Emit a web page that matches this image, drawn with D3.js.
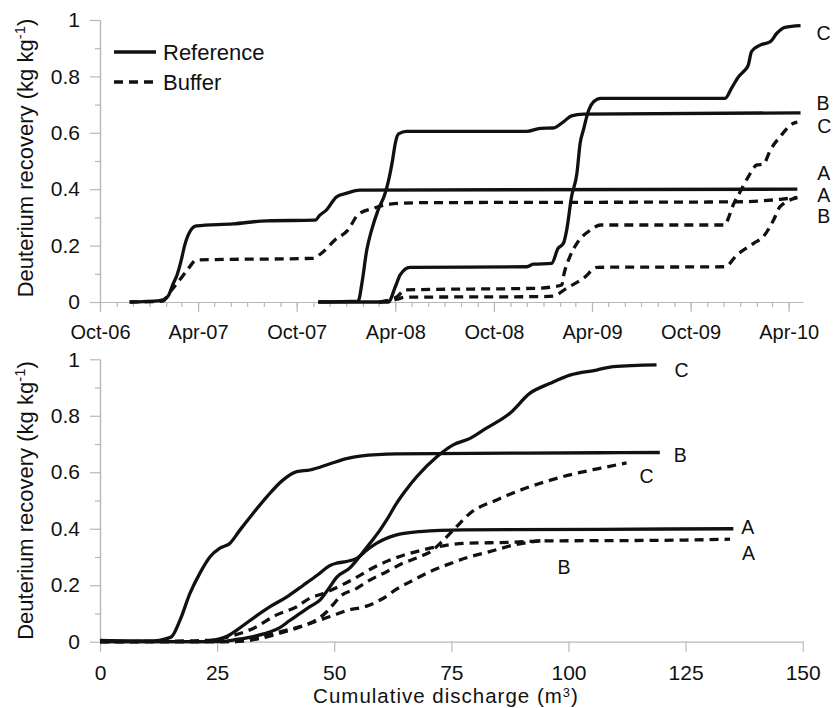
<!DOCTYPE html>
<html><head><meta charset="utf-8">
<script src="https://cdn.jsdelivr.net/npm/d3@7"></script>
<style>
html,body{margin:0;padding:0;background:#fff;}
svg{display:block;font-family:"Liberation Sans",Arial,Helvetica,sans-serif;}
</style></head>
<body><svg id="chart" width="840" height="708"></svg>
<script>
// ---------------- DATA ----------------
const seriesNames = ["A", "B", "C"];
const legendLabels = ["Reference", "Buffer"];
const topTickDates = ["2006-10-01","2007-04-01","2007-10-01","2008-04-01","2008-10-01","2009-04-01","2009-10-01","2010-04-01"];
const topTickLabels = ["Oct-06","Apr-07","Oct-07","Apr-08","Oct-08","Apr-09","Oct-09","Apr-10"];
const bottomTicks = [0, 25, 50, 75, 100, 125, 150];
const yTicks = [0, 0.2, 0.4, 0.6, 0.8, 1];
const yTickLabels = ["0", "0.2", "0.4", "0.6", "0.8", "1"];
const yMinorTicks = [0.1, 0.3, 0.5, 0.7, 0.9];

// Top panel: recovery vs date
const refA_time = [["2006-11-25",0],["2007-01-20",0.005],["2007-02-04",0.02],["2007-02-14",0.066],["2007-02-21",0.096],["2007-03-01",0.15],["2007-03-07",0.20],["2007-03-17",0.25],["2007-03-29",0.27],["2007-06-05",0.277],["2007-08-07",0.288],["2007-11-04",0.29],["2007-11-13",0.308],["2007-11-25",0.326],["2007-12-14",0.373],["2008-01-01",0.385],["2008-01-26",0.397],["2010-04-17",0.40]];
const bufA_time = [["2006-11-25",0],["2007-01-25",0.003],["2007-02-11",0.043],["2007-02-21",0.066],["2007-03-12",0.113],["2007-03-29",0.149],["2007-11-01",0.155],["2007-11-16",0.173],["2007-12-11",0.22],["2008-01-04",0.255],["2008-01-23",0.31],["2008-02-20",0.332],["2008-03-22",0.347],["2008-05-11",0.352],["2009-12-19",0.355],["2010-03-16",0.364],["2010-04-17",0.371]];
const refB_time = [["2007-11-10",0],["2008-01-23",0.003],["2008-01-30",0.066],["2008-02-08",0.184],["2008-02-17",0.255],["2008-02-29",0.326],["2008-03-13",0.385],["2008-03-21",0.444],["2008-03-27",0.504],["2008-04-01",0.563],["2008-04-07",0.596],["2008-04-22",0.605],["2008-12-01",0.605],["2008-12-26",0.616],["2009-01-19",0.617],["2009-02-07",0.639],["2009-02-22",0.66],["2009-03-16",0.666],["2010-04-23",0.671]];
const bufB_time = [["2008-03-03",0],["2008-04-05",0.01],["2008-04-19",0.017],["2008-12-26",0.019],["2009-01-19",0.021],["2009-02-13",0.049],["2009-03-16",0.084],["2009-04-11",0.123],["2009-12-04",0.125],["2009-12-26",0.167],["2010-01-26",0.208],["2010-02-13",0.232],["2010-03-04",0.291],["2010-03-16",0.338],["2010-04-17",0.37]];
const refC_time = [["2007-11-10",0],["2008-03-19",0],["2008-04-01",0.054],["2008-04-10",0.096],["2008-04-28",0.123],["2008-12-01",0.125],["2008-12-13",0.134],["2009-01-16",0.137],["2009-01-28",0.19],["2009-02-07",0.208],["2009-02-13",0.255],["2009-02-22",0.373],["2009-03-04",0.456],["2009-03-10",0.563],["2009-03-16",0.61],["2009-03-26",0.681],["2009-04-04",0.71],["2009-04-17",0.722],["2009-12-04",0.722],["2009-12-16",0.758],["2009-12-29",0.799],["2010-01-07",0.817],["2010-01-16",0.84],["2010-01-22",0.888],["2010-02-07",0.911],["2010-02-26",0.923],["2010-03-10",0.953],["2010-03-25",0.974],["2010-04-23",0.98]];
const bufC_time = [["2008-03-03",0],["2008-04-05",0.02],["2008-04-19",0.043],["2008-12-26",0.049],["2009-01-19",0.054],["2009-02-04",0.06],["2009-02-07",0.09],["2009-02-19",0.161],["2009-03-04",0.208],["2009-03-29",0.255],["2009-04-17",0.273],["2009-12-04",0.273],["2009-12-10",0.297],["2009-12-19",0.344],["2010-01-01",0.391],["2010-01-16",0.444],["2010-02-01",0.486],["2010-02-13",0.489],["2010-02-26",0.539],["2010-03-16",0.586],["2010-04-10",0.634],["2010-04-17",0.638]];

// Bottom panel: recovery vs cumulative discharge (m3)
const refA_q = [[0,0],[22,0],[25,0.008],[27,0.018],[29.2,0.041],[32,0.075],[36.3,0.124],[39.9,0.159],[43.4,0.2],[46.5,0.237],[49.1,0.27],[50.5,0.278],[52.6,0.284],[54.8,0.295],[57,0.325],[59,0.348],[63.3,0.378],[68.3,0.39],[77.5,0.396],[106.7,0.398],[135.2,0.40]];
const bufA_q = [[0,0],[20,0.003],[25,0.008],[28,0.02],[32.7,0.047],[37.7,0.095],[42,0.124],[44.8,0.154],[47.7,0.171],[51.9,0.203],[55.5,0.235],[58.3,0.262],[61.9,0.289],[65.5,0.31],[69,0.325],[72,0.336],[77.5,0.348],[88,0.352],[95,0.357],[110,0.358],[125,0.36],[134.5,0.363]];
const refB_q = [[0,0.005],[11.4,0.003],[14,0.01],[15.3,0.018],[17.1,0.077],[19.2,0.171],[21.3,0.242],[23.5,0.301],[25.6,0.331],[27.7,0.348],[29.9,0.396],[32.7,0.455],[35.6,0.513],[39.1,0.573],[42,0.602],[44.8,0.608],[49.1,0.63],[52.6,0.648],[55.5,0.657],[63.3,0.665],[106.7,0.669],[119.5,0.67]];
const bufB_q = [[0,0],[28,0],[33,0.008],[38.4,0.03],[42,0.048],[44.8,0.065],[49.1,0.089],[52.6,0.11],[56.9,0.126],[60.5,0.154],[63.3,0.186],[66.9,0.218],[70.4,0.248],[74,0.272],[79,0.301],[83.2,0.319],[88.2,0.342],[95.3,0.36]];
const refC_q = [[0,0],[26,0],[28.4,0.006],[32.7,0.018],[36,0.033],[38.4,0.05],[40.5,0.075],[42.7,0.1],[44.8,0.124],[47,0.148],[49.1,0.195],[50.5,0.228],[53.4,0.262],[54.8,0.289],[57.6,0.348],[59.8,0.396],[61.2,0.431],[63.3,0.49],[65,0.53],[67.6,0.584],[71.9,0.655],[75.4,0.697],[79,0.72],[82.5,0.756],[87.5,0.809],[91.8,0.88],[96.1,0.915],[100.3,0.944],[106,0.962],[109.6,0.974],[118.8,0.98]];
const bufC_q = [[0,0],[28,0],[33,0.01],[38.4,0.035],[42,0.05],[45.5,0.071],[48.4,0.106],[49.8,0.132],[51.2,0.159],[54.8,0.189],[57.6,0.218],[61.2,0.248],[64.7,0.278],[68.3,0.301],[71.1,0.325],[72.6,0.348],[76.1,0.407],[79,0.455],[84.7,0.502],[91.8,0.549],[98.9,0.585],[106.7,0.614],[112.4,0.633]];

// ---------------- DRAWING ----------------
const svg = d3.select("#chart");
const parse = d3.utcParse("%Y-%m-%d");
const AX = "#b8b8b8";
const INK = "#111";

const xT = d3.scaleUtc().domain([parse("2006-10-01"), parse("2010-04-27")]).range([100, 802.7]);
const yT = d3.scaleLinear().domain([0, 1]).range([302, 20]);
const xB = d3.scaleLinear().domain([0, 150]).range([100, 802.7]);
const yB = d3.scaleLinear().domain([0, 1]).range([641.7, 359.3]);

function styleAxis(g) {
  g.selectAll(".domain").attr("stroke", AX).attr("stroke-width", 1.2);
  g.selectAll(".tick line").attr("stroke", AX).attr("stroke-width", 1.2);
  g.selectAll("text").attr("fill", INK).attr("font-family", "Liberation Sans, Arial, sans-serif");
}

function yAxes(y) {
  const minor = svg.append("g").attr("transform", "translate(100,0)")
    .call(d3.axisLeft(y).tickValues(yMinorTicks).tickSize(5).tickFormat("").tickSizeOuter(0));
  styleAxis(minor);
  const major = svg.append("g").attr("transform", "translate(100,0)")
    .call(d3.axisLeft(y).tickValues(yTicks).tickSize(10).tickPadding(10).tickSizeOuter(0)
      .tickFormat((d, i) => yTickLabels[i]));
  styleAxis(major);
  major.selectAll("text").attr("font-size", 21);
}

// top x axis
const topMonths = d3.utcMonth.range(parse("2006-10-01"), parse("2010-04-28"));
const gTm = svg.append("g").attr("transform", "translate(0,302)")
  .call(d3.axisBottom(xT).tickValues(topMonths).tickSize(5).tickFormat("").tickSizeOuter(0));
styleAxis(gTm);
const gT = svg.append("g").attr("transform", "translate(0,302)")
  .call(d3.axisBottom(xT).tickValues(topTickDates.map(parse)).tickSize(10).tickPadding(13).tickSizeOuter(0)
    .tickFormat((d, i) => topTickLabels[i]));
styleAxis(gT);
gT.selectAll("text").attr("font-size", 20);
yAxes(yT);

// bottom x axis
const gB = svg.append("g").attr("transform", "translate(0,641.7)")
  .call(d3.axisBottom(xB).tickValues(bottomTicks).tickSize(10).tickPadding(13).tickSizeOuter(0)
    .tickFormat(d3.format("d")));
styleAxis(gB);
gB.selectAll("text").attr("font-size", 21);
yAxes(yB);

// lines
const lineT = d3.line().x(d => xT(parse(d[0]))).y(d => yT(d[1])).curve(d3.curveMonotoneX);
const lineB = d3.line().x(d => xB(d[0])).y(d => yB(d[1])).curve(d3.curveMonotoneX);
const DASH = "9,6";

function drawLine(data, gen, dashed) {
  svg.append("path").datum(data).attr("d", gen)
    .attr("fill", "none").attr("stroke", INK).attr("stroke-width", 3.3)
    .attr("stroke-linejoin", "round")
    .attr("stroke-dasharray", dashed ? DASH : null);
}
[[bufA_time,1],[bufB_time,1],[bufC_time,1],[refA_time,0],[refB_time,0],[refC_time,0]]
  .forEach(([d, dsh]) => drawLine(d, lineT, dsh));
[[bufA_q,1],[bufB_q,1],[bufC_q,1],[refA_q,0],[refB_q,0],[refC_q,0]]
  .forEach(([d, dsh]) => drawLine(d, lineB, dsh));

// end labels
function endLabel(data, xs, ys, name, dx, dy, isTime) {
  const last = data[data.length - 1];
  const x = isTime ? xs(parse(last[0])) : xs(last[0]);
  const y = ys(last[1]);
  svg.append("text").attr("x", x + dx).attr("y", y + dy).attr("dy", "0.36em")
    .attr("font-size", 19.5).attr("fill", INK).text(name);
}
// top panel labels (right side)
endLabel(refC_time, xT, yT, seriesNames[2], 16, 7, true);
endLabel(refB_time, xT, yT, seriesNames[1], 16, -10, true);
endLabel(bufC_time, xT, yT, seriesNames[2], 20, 4, true);
endLabel(refA_time, xT, yT, seriesNames[0], 20, -16, true);
endLabel(bufA_time, xT, yT, seriesNames[0], 20, -2.5, true);
endLabel(bufB_time, xT, yT, seriesNames[1], 20, 18.5, true);
// bottom panel labels
endLabel(refC_q, xB, yB, seriesNames[2], 18, 5, false);
endLabel(refB_q, xB, yB, seriesNames[1], 14, 2, false);
endLabel(bufC_q, xB, yB, seriesNames[2], 13, 13, false);
endLabel(refA_q, xB, yB, seriesNames[0], 8, -1.5, false);
endLabel(bufA_q, xB, yB, seriesNames[0], 12, 13.5, false);
endLabel(bufB_q, xB, yB, seriesNames[1], 11, 27, false);

// legend
const leg = svg.append("g");
legendLabels.forEach((lab, i) => {
  const y = 52 + i * 30;
  leg.append("line").attr("x1", 114).attr("x2", 156).attr("y1", y).attr("y2", y)
    .attr("stroke", INK).attr("stroke-width", 3.3)
    .attr("stroke-dasharray", i === 1 ? DASH : null);
  leg.append("text").attr("x", 163).attr("y", y).attr("dy", "0.36em")
    .attr("font-size", 22).attr("fill", INK).text(lab);
});

// y titles
function yTitle(cy) {
  const t = svg.append("text").attr("transform", `translate(33,${cy}) rotate(-90)`)
    .attr("text-anchor", "middle").attr("font-size", 22).attr("fill", INK);
  t.append("tspan").text("Deuterium recovery (kg kg");
  t.append("tspan").attr("font-size", 15).attr("dy", -8).text("-1");
  t.append("tspan").attr("dy", 8).text(")");
}
yTitle(158);
yTitle(500.5);

// x title bottom
const xt = svg.append("text").attr("x", 446).attr("y", 703).attr("text-anchor", "middle")
  .attr("font-size", 20.5).attr("letter-spacing", 1).attr("fill", INK);
xt.append("tspan").text("Cumulative discharge (m");
xt.append("tspan").attr("font-size", 13).attr("dy", -6).text("3");
xt.append("tspan").attr("dy", 6).text(")");
</script>
</body></html>
